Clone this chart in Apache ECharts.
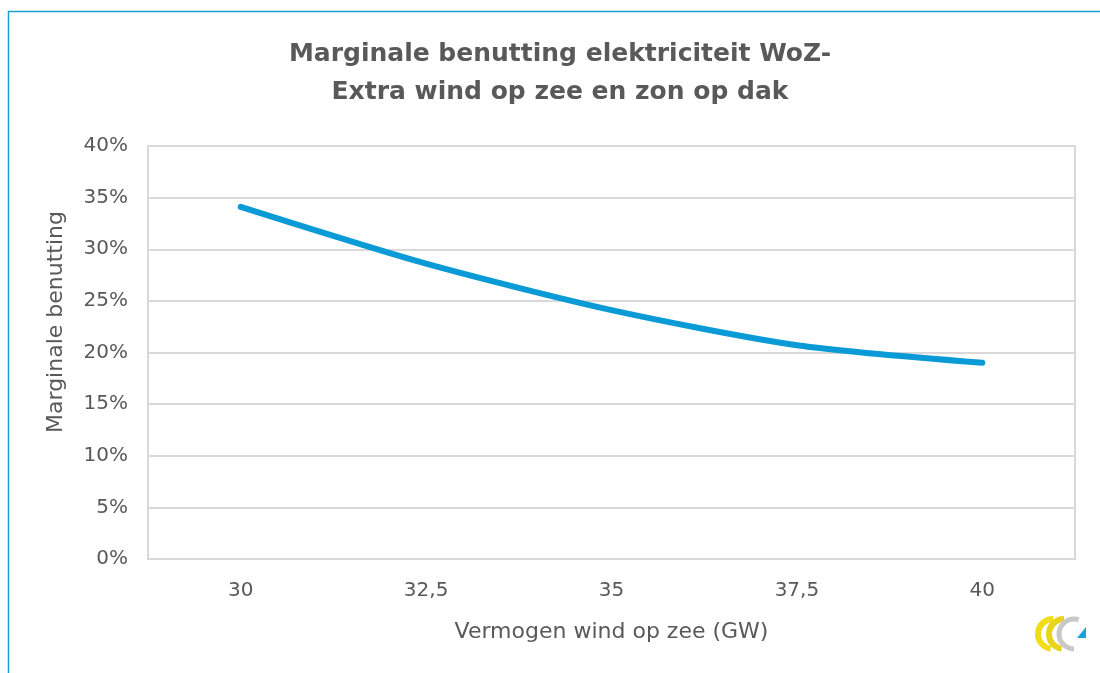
<!DOCTYPE html>
<html><head><meta charset="utf-8">
<script src="https://cdn.jsdelivr.net/npm/echarts@6/dist/echarts.min.js"></script>
<style>html,body{margin:0;padding:0;background:#fff}#c{width:1100px;height:673px}</style>
</head><body><div id="c"></div>
<script>
const categories = ['30', '32,5', '35', '37,5', '40'];
const benutting = [0.341, 0.286, 0.241, 0.207, 0.190];
const yTicks = [0, 0.05, 0.10, 0.15, 0.20, 0.25, 0.30, 0.35, 0.40];
const titleText = 'Marginale benutting elektriciteit WoZ-\nExtra wind op zee en zon op dak';
const xAxisName = 'Vermogen wind op zee (GW)';
const yAxisName = 'Marginale benutting';

const chart = echarts.init(document.getElementById('c'), null, {renderer: 'canvas'});
const font = '"DejaVu Sans", Verdana, sans-serif';
chart.setOption({
  backgroundColor: '#fff',
  animation: false,
  title: {
    text: titleText, left: 555, top: 30, textAlign: 'center',
    textStyle: {fontFamily: font, fontSize: 25, fontWeight: 'bold', color: '#595959', lineHeight: 38, align: 'center'}
  },
  grid: {left: 148, right: 25, top: 146, bottom: 114, show: true, borderColor: '#d9d9d9', borderWidth: 2, containLabel: false},
  xAxis: {
    type: 'category', data: categories, boundaryGap: true,
    name: xAxisName, nameLocation: 'middle', nameGap: 62,
    nameTextStyle: {fontFamily: font, fontSize: 22, color: '#595959'},
    axisLine: {show: true, lineStyle: {color: '#d9d9d9', width: 2}},
    axisTick: {show: false},
    axisLabel: {fontFamily: font, fontSize: 20, color: '#595959', margin: 22}
  },
  yAxis: {
    type: 'value', min: yTicks[0], max: yTicks[yTicks.length - 1], interval: 0.05,
    axisLine: {show: true, lineStyle: {color: '#d9d9d9', width: 2}},
    axisTick: {show: false},
    splitLine: {lineStyle: {color: '#d9d9d9', width: 2}},
    axisLabel: {fontFamily: font, fontSize: 20, color: '#595959', margin: 20,
      formatter: v => Math.round(v * 100) + '%'}
  },
  series: [{
    type: 'line', data: benutting, smooth: 0.25, symbol: 'none',
    lineStyle: {color: '#0a9bd6', width: 6, cap: 'round', join: 'round'}
  }],
  graphic: [
    {type: 'rect', shape: {x: 8.5, y: 11.5, width: 1200, height: 1000}, style: {fill: 'none', stroke: '#1a9fd9', lineWidth: 1.5}, silent: true},
    {type: 'text', x: 56, y: 322, rotation: Math.PI / 2,
      style: {text: yAxisName, font: '22px ' + font, fill: '#595959', align: 'center', verticalAlign: 'middle'}},
    {type: 'arc', shape: {cx: 1053, cy: 634, r: 15, startAngle: Math.PI * 0.55, endAngle: Math.PI * 1.5}, style: {fill: 'none', stroke: '#f2dc1a', lineWidth: 6}},
    {type: 'arc', shape: {cx: 1064, cy: 634, r: 15, startAngle: Math.PI * 0.55, endAngle: Math.PI * 1.5}, style: {fill: 'none', stroke: '#e8d41c', lineWidth: 6}},
    {type: 'arc', shape: {cx: 1074, cy: 634, r: 15, startAngle: Math.PI * 0.5, endAngle: Math.PI * 1.6}, style: {fill: 'none', stroke: '#c8c8c8', lineWidth: 5}},
    {type: 'polygon', shape: {points: [[1077, 638], [1086, 627], [1086, 638]]}, style: {fill: '#1a9fe0'}}
  ]
});
</script></body></html>
